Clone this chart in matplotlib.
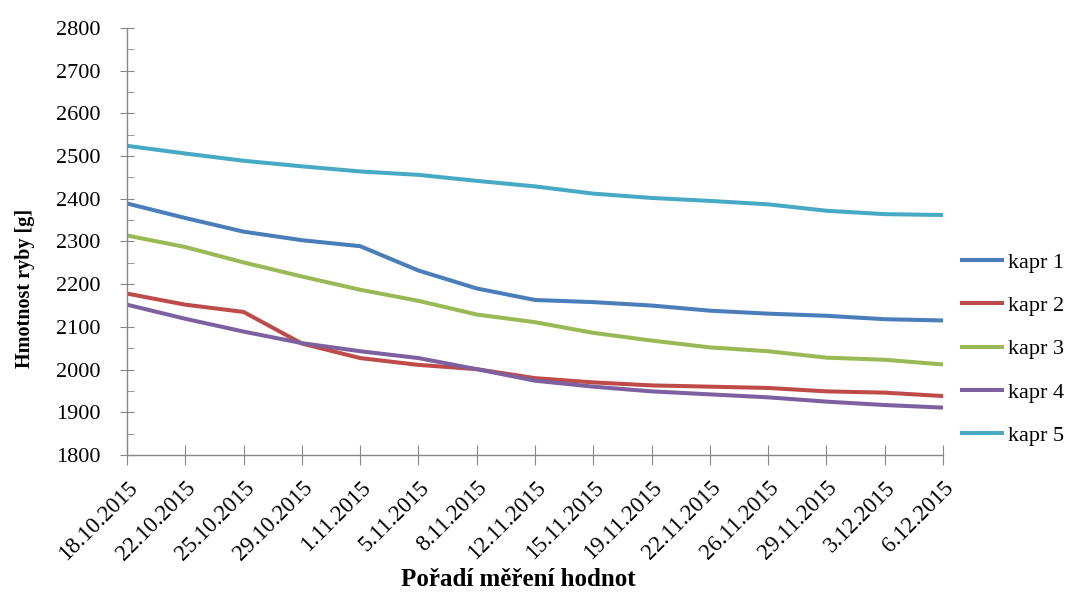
#!/usr/bin/env python3
"""Hmotnost kaprů v průběhu měření"""

import matplotlib
matplotlib.use("Agg")
import matplotlib.pyplot as plt
from matplotlib.ticker import MultipleLocator

dates = ['18.10.2015', '22.10.2015', '25.10.2015', '29.10.2015', '1.11.2015',
         '5.11.2015', '8.11.2015', '12.11.2015', '15.11.2015', '19.11.2015',
         '22.11.2015', '26.11.2015', '29.11.2015', '3.12.2015', '6.12.2015']

kapr1 = [2389, 2355, 2323, 2303, 2289, 2232, 2190, 2163, 2158, 2150, 2138, 2131, 2126, 2118, 2115]
kapr2 = [2178, 2152, 2135, 2061, 2027, 2011, 2001, 1980, 1970, 1963, 1960, 1957, 1949, 1946, 1938]
kapr3 = [2314, 2287, 2251, 2218, 2187, 2161, 2129, 2111, 2086, 2068, 2052, 2043, 2028, 2023, 2012]
kapr4 = [2152, 2119, 2089, 2062, 2043, 2027, 2001, 1974, 1960, 1949, 1942, 1935, 1925, 1917, 1911]
kapr5 = [2524, 2506, 2489, 2476, 2464, 2456, 2442, 2429, 2412, 2402, 2395, 2387, 2372, 2364, 2362]

series = [('kapr 1', kapr1, '#4A7EBB'),
          ('kapr 2', kapr2, '#BE4B48'),
          ('kapr 3', kapr3, '#98B954'),
          ('kapr 4', kapr4, '#7D60A0'),
          ('kapr 5', kapr5, '#46AAC5')]

plt.rcParams['font.family'] = 'serif'
plt.rcParams['font.serif'] = ['Liberation Serif', 'DejaVu Serif']

fig = plt.figure(figsize=(10.7, 5.95), dpi=100)
ax = fig.add_axes([0.1187, 0.2353, 0.7626, 0.7177])

x = list(range(len(dates)))
for name, vals, color in series:
    ax.plot(x, vals, color=color, linewidth=2.9, label=name, solid_capstyle='butt')

ax.set_xlim(0, len(dates) - 1)
ax.set_ylim(1800, 2800)
ax.yaxis.set_major_locator(MultipleLocator(100))
ax.yaxis.set_minor_locator(MultipleLocator(50))
ax.set_xticks(x)
ax.set_xticklabels(dates, rotation=45, ha='right', va='top', rotation_mode='anchor')

for side in ('top', 'right'):
    ax.spines[side].set_visible(False)
for side in ('left', 'bottom'):
    ax.spines[side].set_color('#878787')
    ax.spines[side].set_linewidth(1.0)

ax.tick_params(axis='y', which='major', direction='inout', length=10, color='#878787',
               labelsize=16, pad=14)
ax.tick_params(axis='y', which='minor', direction='in', length=5, color='#878787')
ax.tick_params(axis='x', which='major', direction='inout', length=14, color='#878787',
               labelsize=16.5, pad=9)

# axis titles sit where the spreadsheet put them, not centred on the axes
ax.set_ylabel('Hmotnost ryby [g]', fontsize=14.5, fontweight='bold')
ax.yaxis.set_label_coords(-0.113, 0.391)
ax.set_xlabel('Pořadí měření hodnot', fontsize=18, fontweight='bold')
ax.xaxis.set_label_coords(0.48, -0.265)

ax.legend(loc='center left', bbox_to_anchor=(1.0208, 0.248), frameon=False,
          fontsize=16, handlelength=2.0, handletextpad=0.18, labelspacing=1.02,
          borderpad=0, borderaxespad=0)

fig.savefig('out.png', dpi=100)
plt.close(fig)
